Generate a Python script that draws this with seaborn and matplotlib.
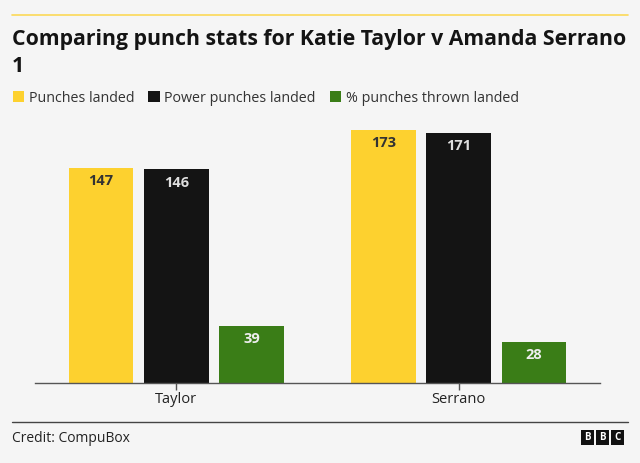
import matplotlib
matplotlib.use("Agg")
import matplotlib.pyplot as plt
import seaborn as sns
import pandas as pd
from matplotlib.patches import Rectangle, Patch
from matplotlib.lines import Line2D

boxers = ["Taylor", "Serrano"]
series = ["Punches landed", "Power punches landed", "% punches thrown landed"]
punches_landed = [147, 173]
power_punches_landed = [146, 171]
pct_thrown_landed = [39, 28]
colors = ["#FDD12F", "#141414", "#3A7D17"]
label_colors = ["#333333", "#E0E0E0", "#EEEEEE"]

rows = []
for s, vals in zip(series, [punches_landed, power_punches_landed, pct_thrown_landed]):
    for b, v in zip(boxers, vals):
        rows.append({"boxer": b, "series": s, "value": v})
df = pd.DataFrame(rows)

sns.set_theme(style="white")
BG = "#F5F5F5"
plt.rcParams["font.family"] = ["Open Sans", "DejaVu Sans"]

fig = plt.figure(figsize=(6.4, 4.63), dpi=100, facecolor=BG)
ax = fig.add_axes([35/640, 1 - 383/463, 565/640, (383 - 119.7)/463])
ax.set_facecolor(BG)

sns.barplot(data=df, x="boxer", y="value", hue="series", order=boxers,
            hue_order=series, palette=colors, width=0.8, gap=0.14,
            saturation=1, ax=ax, legend=False, edgecolor="none")

ax.set_xlim(-0.5, 1.5)
ax.set_ylim(0, 180)
ax.set_xlabel("")
ax.set_ylabel("")
ax.set_yticks([])
for sp in ["top", "right", "left"]:
    ax.spines[sp].set_visible(False)
ax.spines["bottom"].set_color("#555555")
ax.spines["bottom"].set_linewidth(1)
ax.tick_params(axis="x", length=5, width=1, color="#555555", labelsize=10.5,
               labelcolor="#222222", pad=1.5, bottom=True)

for container, lc in zip(ax.containers, label_colors):
    ax.bar_label(container, labels=[f"{int(v)}" for v in container.datavalues],
                 padding=-14.5, color=lc, fontsize=10.5, fontweight="bold")

# thin accent line at the top
fig.add_artist(Line2D([12/640, 628/640], [1 - 15/463, 1 - 15/463],
                      color="#FDD12F", linewidth=1.2, alpha=0.8,
                      transform=fig.transFigure))

fig.text(12/640, 1 - 45/463, "Comparing punch stats for Katie Taylor v Amanda Serrano",
         fontsize=15.3, fontweight="bold", color="#141414", va="baseline", ha="left")
fig.text(12/640, 1 - 72/463, "1",
         fontsize=15.3, fontweight="bold", color="#141414", va="baseline", ha="left")

handles = [Patch(facecolor=c, edgecolor="none") for c in colors]
fig.legend(handles, series, loc="center left", bbox_to_anchor=(0/640, 1 - 98/463),
           ncol=3, frameon=False, fontsize=10.3, handlelength=0.8, handleheight=0.8,
           handletextpad=0.3, columnspacing=1.0, labelcolor="#333333")

fig.add_artist(Line2D([12/640, 628/640], [1 - 422/463, 1 - 422/463],
                      color="#444444", linewidth=1, transform=fig.transFigure))
fig.text(12/640, 1 - 438/463, "Credit: CompuBox", fontsize=10, color="#222222",
         va="center", ha="left")

for i, letter in enumerate("BBC"):
    x0 = 581 + i * 15
    fig.add_artist(Rectangle((x0/640, 1 - 445/463), 13/640, 15/463,
                             facecolor="#111111", edgecolor="none",
                             transform=fig.transFigure))
    fig.text((x0 + 6.5)/640, 1 - 437.5/463, letter, fontsize=7, fontweight="bold",
             color="white", ha="center", va="center")

fig.savefig("out.png", dpi=100, facecolor=BG)
